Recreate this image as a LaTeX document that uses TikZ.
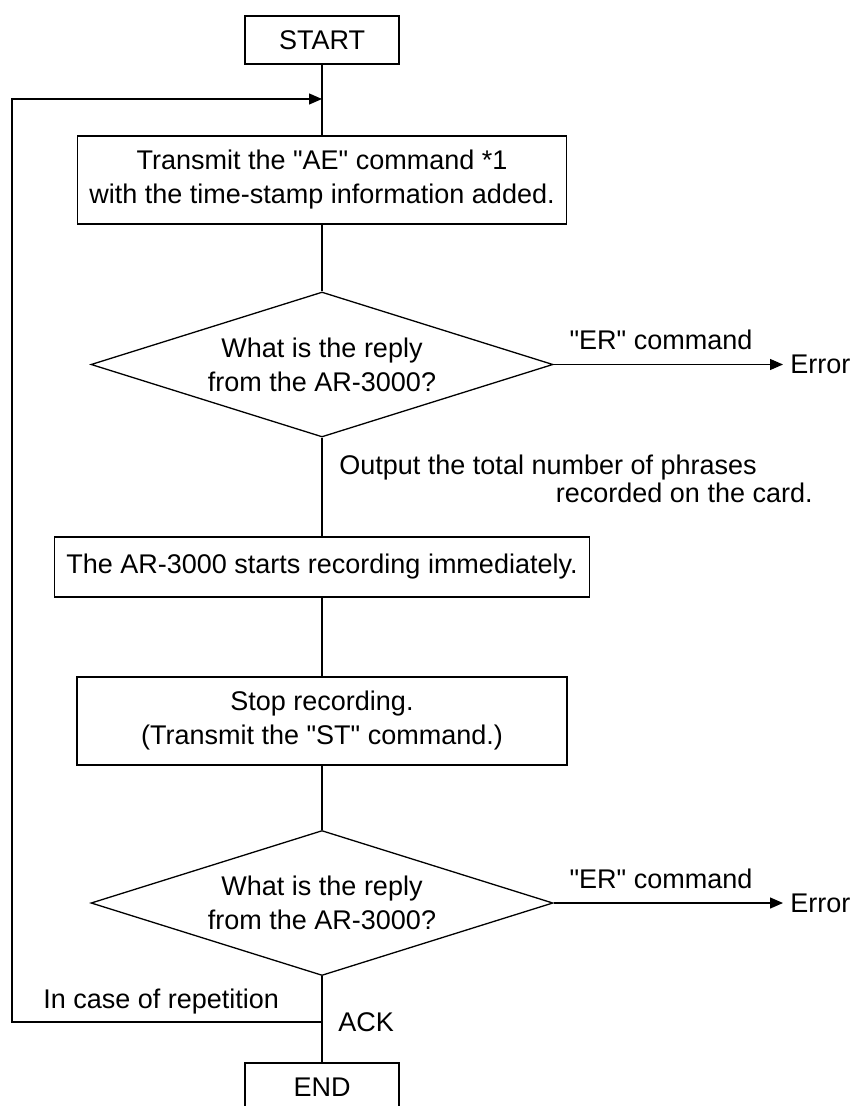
\documentclass[tikz,border=0pt]{standalone}
\usepackage{fontspec}
\setmainfont{Liberation Sans}[Ligatures=TeXOff]
\usetikzlibrary{shapes.geometric}
\usetikzlibrary{arrows.meta}

\begin{document}
\begin{tikzpicture}[x=0.5pt,y=-0.5pt,every node/.style={font=\fontsize{13.5pt}{17pt}\selectfont}]

\tikzstyle{flowline} = [line width=0.65pt]
\tikzstyle{flowarrow} = [line width=0.65pt, -{Triangle[length=6.5pt,width=5.5pt]}]
\tikzstyle{termbox} = [draw, line width=0.65pt, minimum width=77pt, minimum height=24pt, inner sep=0pt]
\tikzstyle{procbox} = [draw, line width=0.65pt, align=center, inner sep=0pt]
\tikzstyle{decision} = [draw, diamond, aspect=3.19, line width=0.65pt, align=center, inner sep=0pt, minimum width=231pt, minimum height=72.5pt]
\tikzstyle{plaintext} = [inner sep=0pt]

\useasboundingbox (0,0) rectangle (857,1106);

% main column
\node [termbox] (start) at (322,40) {START};
\node [procbox, minimum width=244.5pt, minimum height=44pt] (send) at (322,180) {Transmit the "AE" command *1\\with the time-stamp information added.};
\node [decision] (reply1) at (322,364.5) {What is the reply\\from the AR-3000?};
\node [procbox, minimum width=267.5pt, minimum height=30pt] (rec) at (322,567) {The AR-3000 starts recording immediately.};
\node [procbox, minimum width=245pt, minimum height=44pt] (stop) at (322,721) {Stop recording.\\(Transmit the "ST" command.)};
\node [decision] (reply2) at (322,903) {What is the reply\\from the AR-3000?};
\node [termbox] (end) at (322,1087) {END};

\draw [flowline] (start) -- (send) -- (reply1) -- (rec) -- (stop) -- (reply2) -- (end);

% error exits
\node [plaintext, anchor=west] (err1) at (790,364.5) {Error};
\node [plaintext, anchor=base] (er1) at (661,350) {"ER" command};
\draw [flowarrow, shorten >=3.5pt] (reply1) -- (err1);

\node [plaintext, anchor=west] (err2) at (790,903) {Error};
\node [plaintext, anchor=base] (er2) at (661,888.5) {"ER" command};
\draw [flowarrow, shorten >=3.5pt] (reply2) -- (err2);

% replies
\node [plaintext, anchor=base west] (outA) at (339,474) {Output the total number of phrases};
\node [plaintext, anchor=base east] (outB) at (813,502) {recorded on the card.};
\node [plaintext, anchor=west] (ack) at (338,1022) {ACK};

% repetition loop
\coordinate (rep) at (322,1022);
\coordinate (turn) at (12,1022);
\coordinate (entry) at (322,99);
\node [plaintext, anchor=base west] (again) at (43,1008) {In case of repetition};
\draw [flowarrow] (rep) -- (turn) |- (entry);

\end{tikzpicture}
\end{document}
